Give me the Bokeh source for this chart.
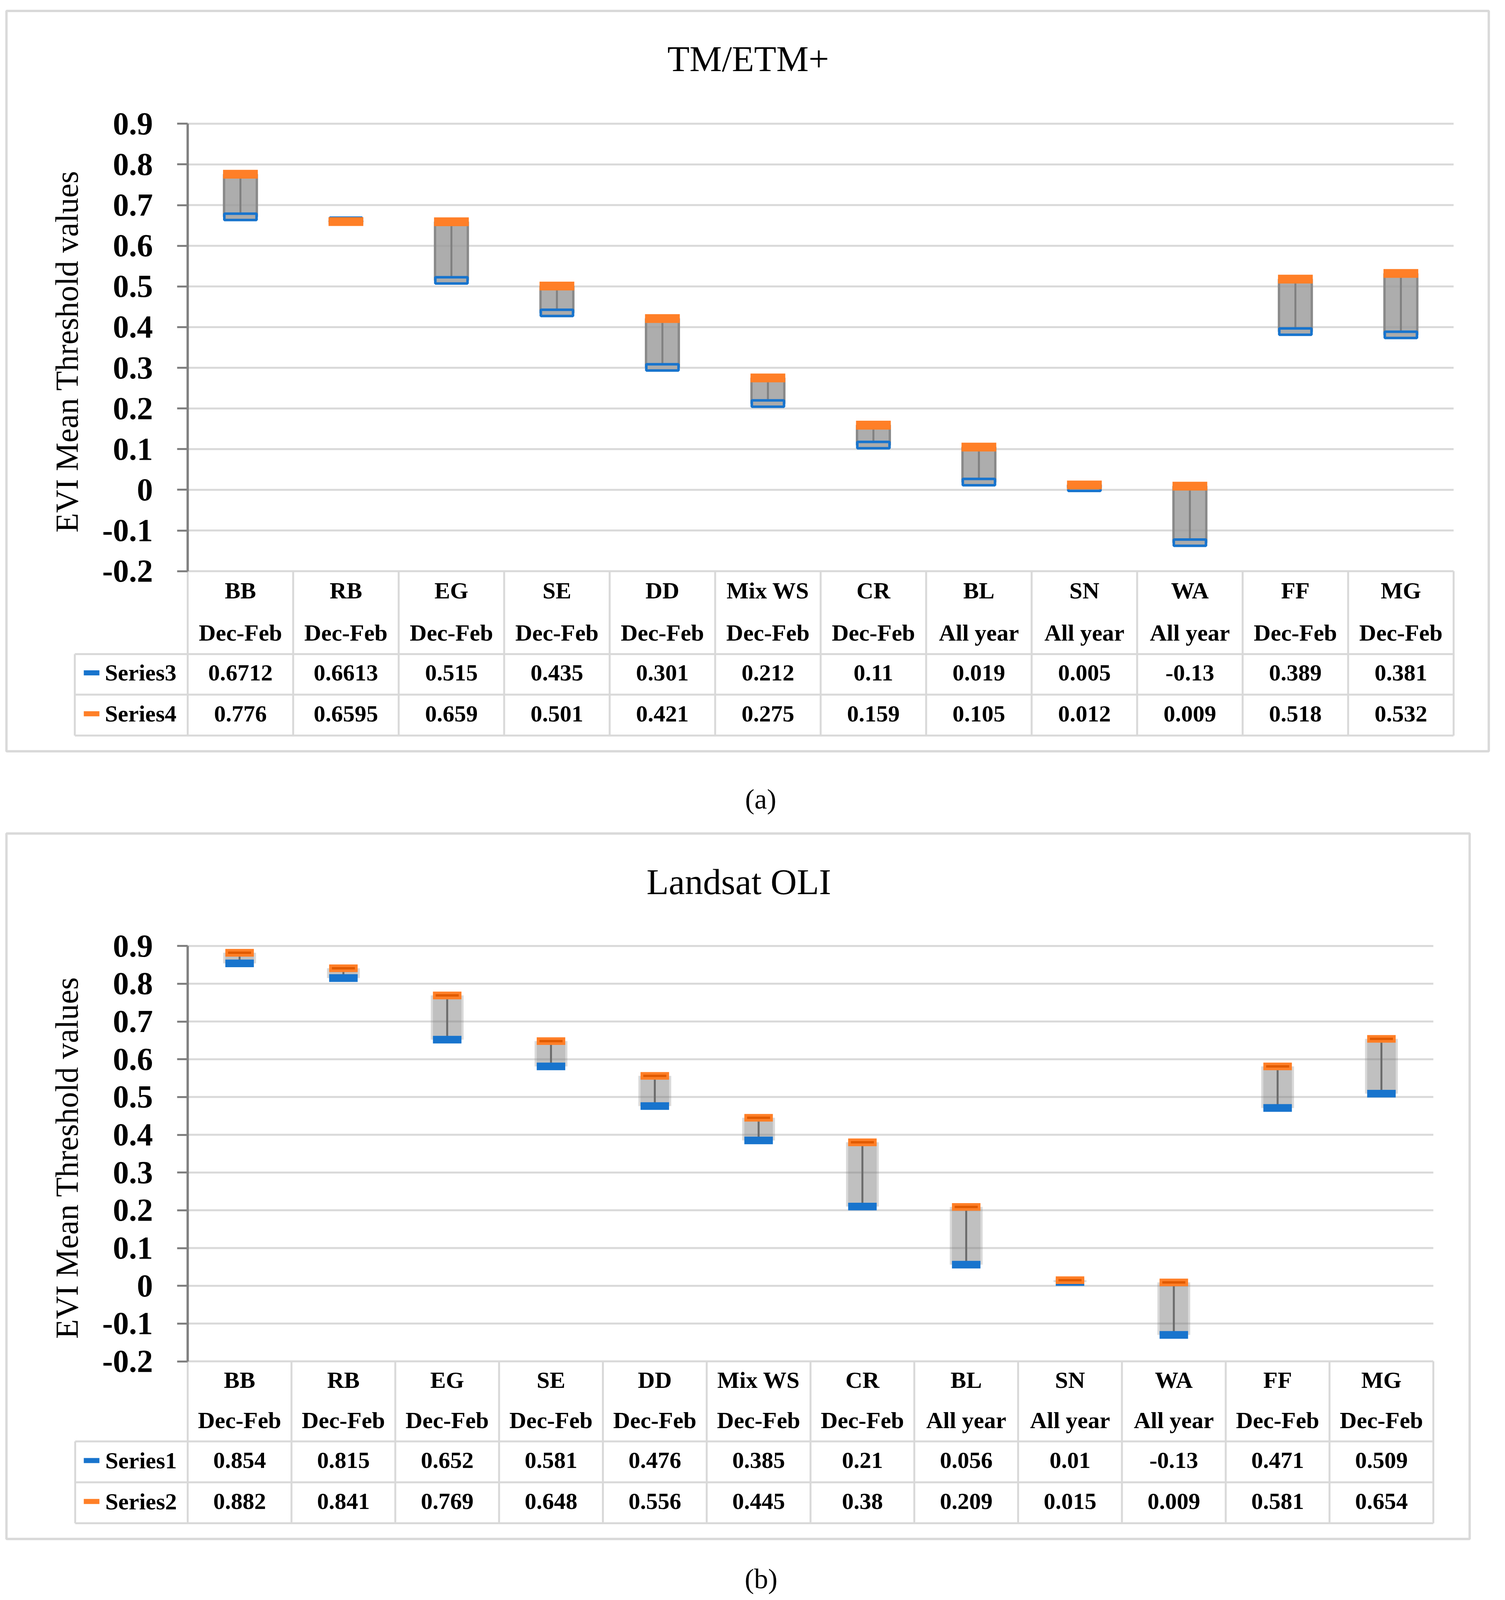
from bokeh.plotting import figure
from bokeh.models import Range1d, LinearAxis, FixedTicker, ColumnDataSource, BoxAnnotation
from bokeh.layouts import column
from bokeh.embed import file_html
from bokeh.resources import INLINE
from bokeh.core.properties import value

# ---------------- data ----------------
categories = ["BB", "RB", "EG", "SE", "DD", "Mix WS", "CR", "BL", "SN", "WA", "FF", "MG"]
seasons = ["Dec-Feb", "Dec-Feb", "Dec-Feb", "Dec-Feb", "Dec-Feb", "Dec-Feb", "Dec-Feb",
           "All year", "All year", "All year", "Dec-Feb", "Dec-Feb"]
tm_series3 = [0.6712, 0.6613, 0.515, 0.435, 0.301, 0.212, 0.11, 0.019, 0.005, -0.13, 0.389, 0.381]
tm_series4 = [0.776, 0.6595, 0.659, 0.501, 0.421, 0.275, 0.159, 0.105, 0.012, 0.009, 0.518, 0.532]
oli_series1 = [0.854, 0.815, 0.652, 0.581, 0.476, 0.385, 0.21, 0.056, 0.01, -0.13, 0.471, 0.509]
oli_series2 = [0.882, 0.841, 0.769, 0.648, 0.556, 0.445, 0.38, 0.209, 0.015, 0.009, 0.581, 0.654]
y_ticks = [-0.2, -0.1, 0, 0.1, 0.2, 0.3, 0.4, 0.5, 0.6, 0.7, 0.8, 0.9]
y_label = "EVI Mean Threshold  values"

BLUE = "#1874CD"
ORANGE = "#FF7F27"
GRID = "#D9D9D9"
FONT = "Liberation Serif"
W = 3837
# the visible viewport is a little shorter than the requested window: squeeze vertically
F = 4110 / 4197

LA = dict(canvas=(8, 2150), x0=488, colw=270.08, y09=331, ppu=1063,
          box=(24, 36, 3819, 1971), legend_left=199, rows=(1717, 1823, 1930),
          cat_y=1551, season_y=1661, r_y=(1766, 1873), title=(1923, 161),
          caption=(1955, 2096), leg_mark=242, leg_text=276)
LB = dict(canvas=(2150, 4189), x0=488, colw=265.75, y09=2480, ppu=987,
          box=(24, 2186, 3770, 4030), legend_left=200, rows=(3775, 3882, 3989),
          cat_y=3615, season_y=3720, r_y=(3825, 3932), title=(1899, 2312),
          caption=(1956, 4134), leg_mark=242, leg_text=277)


def make_panel(title_text, caption, names, lows, highs, L, style):
    top, bottom = L["canvas"]
    H = int(round((bottom - top) * F))

    def X(px):
        return (px - L["x0"]) / L["colw"]

    def Y(py):
        return 0.9 - (py - L["y09"]) / L["ppu"]

    p = figure(width=W, height=H, x_range=Range1d(X(8), X(8 + W)),
               y_range=Range1d(Y(bottom), Y(top)), output_backend="svg",
               toolbar_location=None, min_border=0, title=None,
               x_axis_location=None, y_axis_location=None)
    p.grid.visible = False
    p.outline_line_color = None
    p.background_fill_color = "white"
    p.border_fill_color = "white"

    n = len(categories)
    xs = [i + 0.5 for i in range(n)]
    src = ColumnDataSource(dict(
        x=xs, low=lows, high=highs,
        bot=[min(a, b) for a, b in zip(lows, highs)],
        top=[max(a, b) for a, b in zip(lows, highs)],
        cat=categories, season=seasons,
        low_txt=[str(v) for v in lows], high_txt=[str(v) for v in highs]))

    # outer box
    bl, bt, br, bb = L["box"]
    p.add_layout(BoxAnnotation(left=X(bl), right=X(br), top=Y(bt), bottom=Y(bb),
                               fill_color=None, line_color="#808080", line_width=6))

    # gridlines (plot area only)
    gy = [t for t in y_ticks if t > -0.2]
    p.segment(x0=[0] * len(gy), y0=gy, x1=[n] * len(gy), y1=gy,
              line_color=GRID, line_width=5)

    # table lines
    xl = X(L["legend_left"])
    yh, yr, yb = [Y(v) for v in L["rows"]]
    p.segment(x0=[0, xl, xl, xl], y0=[-0.2, yh, yr, yb], x1=[n] * 4, y1=[-0.2, yh, yr, yb],
              line_color=GRID, line_width=5)
    vx = list(range(n + 1)) + [xl]
    p.segment(x0=vx, y0=[-0.2] * (n + 1) + [yh], x1=vx, y1=[yb] * (n + 2),
              line_color=GRID, line_width=5)

    cw = L["colw"]
    if style == "a":
        p.vbar(x="x", width=84 / cw, bottom="bot", top="top", source=src,
               fill_color="#999999", fill_alpha=0.8, line_color="#898989", line_width=6)
        p.segment(x0="x", y0="bot", x1="x", y1="top", source=src,
                  line_color="#808080", line_width=5)
        p.rect(x="x", y="low", width=82.5, height=16.5 * F, width_units="screen",
               height_units="screen", source=src, fill_color="#ABABAB",
               line_color=BLUE, line_width=6.5)
        p.rect(x="x", y="high", width=89, height=23 * F, width_units="screen",
               height_units="screen", source=src, fill_color=ORANGE, line_color=None)
    else:
        p.vbar(x="x", width=84 / cw, bottom="bot", top="top", source=src,
               fill_color="#808080", fill_alpha=0.3, line_color=None)
        p.vbar(x="x", width=73 / cw, bottom="bot", top="top", source=src,
               fill_color="#808080", fill_alpha=0.286, line_color=None)
        p.segment(x0="x", y0="bot", x1="x", y1="top", source=src,
                  line_color="#6B6B6B", line_width=5)
        p.rect(x="x", y="low", width=73, height=20 * F, width_units="screen",
               height_units="screen", source=src, fill_color=BLUE, line_color=None)
        p.rect(x="x", y="high", width=73, height=20 * F, width_units="screen",
               height_units="screen", source=src, fill_color=ORANGE, line_color=None)
        p.rect(x="x", y="high", width=59, height=6, width_units="screen",
               height_units="screen", source=src, fill_color="#E05A00", line_color=None)

    # y axis
    ax = LinearAxis(fixed_location=0, bounds=(-0.2, 0.9), ticker=FixedTicker(ticks=y_ticks),
                    axis_label=y_label)
    ax.major_label_overrides = {t: f"{t:g}" for t in y_ticks}
    ax.axis_line_color = "#808080"
    ax.axis_line_width = 6
    ax.major_tick_line_color = "#808080"
    ax.major_tick_line_width = 5
    ax.major_tick_out = 27
    ax.major_tick_in = 0
    ax.minor_tick_line_color = None
    ax.major_label_standoff = 62
    ax.major_label_text_font = FONT
    ax.major_label_text_font_style = "bold"
    ax.major_label_text_font_size = "82px"
    ax.major_label_text_color = "black"
    ax.axis_label_text_font = FONT
    ax.axis_label_text_font_style = "normal"
    ax.axis_label_text_font_size = "82px"
    ax.axis_label_text_color = "black"
    ax.axis_label_standoff = 42
    p.add_layout(ax, "left")

    tkw = dict(text_font=value(FONT), text_font_style="bold", text_font_size="60px",
               text_color="black", text_baseline="middle")
    p.text(x="x", y=Y(L["cat_y"]), text="cat", source=src, text_align="center", **tkw)
    p.text(x="x", y=Y(L["season_y"]), text="season", source=src, text_align="center", **tkw)
    p.text(x="x", y=Y(L["r_y"][0]), text="low_txt", source=src, text_align="center", **tkw)
    p.text(x="x", y=Y(L["r_y"][1]), text="high_txt", source=src, text_align="center", **tkw)

    # legend keys in the table
    ly = [Y(L["r_y"][0]), Y(L["r_y"][1])]
    p.rect(x=[X(L["leg_mark"])] * 2, y=ly, width=40, height=13, width_units="screen",
           height_units="screen", fill_color=[BLUE, ORANGE], line_color=None)
    p.text(x=[X(L["leg_text"])] * 2, y=ly, text=names, text_align="left", **tkw)

    # title and caption
    p.text(x=[X(L["title"][0])], y=[Y(L["title"][1])], text=[title_text],
           text_font=value(FONT), text_font_size="93px", text_color="black",
           text_align="center", text_baseline="middle")
    p.text(x=[X(L["caption"][0])], y=[Y(L["caption"][1])], text=[caption],
           text_font=value(FONT), text_font_size="72px", text_color="black",
           text_align="center", text_baseline="middle")
    return p


pa = make_panel("TM/ETM+", "(a)", ["Series3", "Series4"], tm_series3, tm_series4, LA, "a")
pb = make_panel("Landsat OLI", "(b)", ["Series1", "Series2"], oli_series1, oli_series2, LB, "b")

layout = column(pa, pb, spacing=0)
open("out.html", "w").write(file_html(layout, INLINE))
